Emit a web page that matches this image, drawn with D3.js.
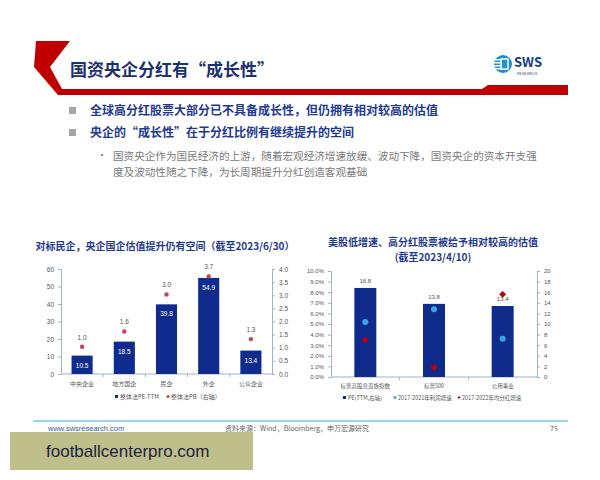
<!DOCTYPE html>
<html><head><meta charset="utf-8">
<script src="https://cdn.jsdelivr.net/npm/d3@7"></script>
<style>
html,body{margin:0;padding:0;background:#fff;}
svg{display:block;font-family:"Noto Sans CJK SC","Noto Sans",sans-serif;}
</style></head>
<body><svg id="c" width="600" height="480"></svg>
<script>
// ---- data ----
const leftCats = ["中央企业","地方国企","民企","外企","公众企业"];
const leftPE = [10.5,18.5,39.8,54.9,13.4];
const leftPB = [1.04,1.62,3.03,3.72,1.33];
const leftTicksL = [0,10,20,30,40,50,60];
const leftTicksR = [0,0.5,1,1.5,2,2.5,3,3.5,4];

const rightCats = ["标普高股息贵族指数","标普500","公用事业"];
const rightPE = [16.8,13.8,13.4];
const rightGrowth = [0.052,0.064,0.036];
const rightDiv = [0.035,0.009,0.078];
const rightTicksL = [0,0.01,0.02,0.03,0.04,0.05,0.06,0.07,0.08,0.09,0.10];
const rightTicksR = [0,2,4,6,8,10,12,14,16,18,20];

const svg = d3.select("#c");
const NAVY = "#0f2c8c", AX = "#9fb3cc", TXT = "#555";

// ---- header ----
svg.append("path").attr("fill", "#c00000")
  .attr("d","M36,41 L70,41 L50,67 L62,89 L482,89 L488,85 L568,85 L568,95 L58,95 L34,67 Z");
svg.append("text").attr("x",70).attr("y",76).attr("font-size",17).attr("font-weight","bold")
  .attr("fill","#1c2f6e").text("国资央企分红有“成长性”");
// logo
const lg = svg.append("g");
lg.append("circle").attr("cx",503).attr("cy",64).attr("r",9).attr("fill","#1f8fd6");
[59,62,65,68].forEach(y=>lg.append("rect").attr("x",494).attr("y",y).attr("width",8).attr("height",1.5).attr("fill","#fff"));
lg.append("rect").attr("x",501).attr("y",59).attr("width",7).attr("height",10).attr("fill","none").attr("stroke","#fff").attr("stroke-width",1.5);
lg.append("text").attr("x",514).attr("y",67).attr("font-size",13).attr("font-weight","bold").attr("fill","#1a3a8a").text("SWS");
lg.append("text").attr("x",517).attr("y",75).attr("font-size",4).attr("fill","#1a3a8a").text("RESEARCH");

// ---- bullets ----
[[115,"全球高分红股票大部分已不具备成长性，但仍拥有相对较高的估值"],[137,"央企的“成长性”在于分红比例有继续提升的空间"]].forEach(([y,t])=>{
  svg.append("rect").attr("x",69).attr("y",y-8).attr("width",7).attr("height",7).attr("fill","#a6a6a6");
  svg.append("text").attr("x",90).attr("y",y).attr("font-size",12).attr("font-weight","bold").attr("fill","#1f3a93").text(t);
});
svg.append("text").attr("x",97).attr("y",159).attr("font-size",10).attr("fill","#777").text("•");
svg.append("text").attr("x",113).attr("y",160).attr("font-size",10.6).attr("fill","#7a7a7a").text("国资央企作为国民经济的上游，随着宏观经济增速放缓、波动下降，国资央企的资本开支强");
svg.append("text").attr("x",113).attr("y",176).attr("font-size",10.6).attr("fill","#7a7a7a").text("度及波动性随之下降，为长周期提升分红创造客观基础");

// ---- left chart ----
{
  const x0=61,x1=272,yT=269,yB=374;
  const x = d3.scaleBand().domain(leftCats).range([x0,x1]).paddingInner(0.5).paddingOuter(0.25);
  const xb = d3.scaleBand().domain(leftCats).range([x0,x1]);
  const yL = d3.scaleLinear().domain([0,60]).range([yB,yT]);
  const yR = d3.scaleLinear().domain([0,4]).range([yB,yT]);
  const g = svg.append("g");
  g.append("text").attr("x",165).attr("y",250).attr("text-anchor","middle").attr("font-size",10).attr("font-weight","bold").attr("fill","#1f3a93")
    .text("对标民企，央企国企估值提升仍有空间（截至2023/6/30）");
  const aL = g.append("g").attr("transform",`translate(${x0},0)`).call(d3.axisLeft(yL).tickValues(leftTicksL).tickSize(3).tickPadding(4).tickFormat(d3.format("d")));
  const aR = g.append("g").attr("transform",`translate(${x1},0)`).call(d3.axisRight(yR).tickValues(leftTicksR).tickSize(3).tickPadding(4).tickFormat(d3.format(".1f")));
  const aB = g.append("g").attr("transform",`translate(0,${yB})`).call(d3.axisBottom(xb).tickSize(0).tickFormat(""));
  [aL,aR,aB].forEach(a=>{a.selectAll("path,line").attr("stroke",AX);a.selectAll("text").attr("fill",TXT).attr("font-size",6.5).attr("font-family","Arial,Liberation Sans,sans-serif");});
  aB.select("path").attr("d",`M${x0},0H${x1}`);
  g.selectAll(".btick").data(leftCats.slice(1)).join("line").attr("x1",d=>xb(d)).attr("x2",d=>xb(d)).attr("y1",yB).attr("y2",yB+3).attr("stroke",AX);
  g.selectAll(".bar").data(leftCats).join("rect").attr("x",d=>x(d)).attr("width",x.bandwidth())
    .attr("y",(d,i)=>yL(leftPE[i])).attr("height",(d,i)=>yB-yL(leftPE[i])).attr("fill",NAVY);
  g.selectAll(".bl").data(leftCats).join("text").attr("x",d=>x(d)+x.bandwidth()/2).attr("y",(d,i)=>yL(leftPE[i])+12)
    .attr("text-anchor","middle").attr("font-size",6.5).attr("fill","#fff").attr("font-family","Arial,Liberation Sans,sans-serif").text((d,i)=>leftPE[i].toFixed(1));
  g.selectAll(".pb").data(leftCats).join("circle").attr("cx",d=>x(d)+x.bandwidth()/2).attr("cy",(d,i)=>yR(leftPB[i])).attr("r",2.2).attr("fill","#c8424f");
  g.selectAll(".pbl").data(leftCats).join("text").attr("x",d=>x(d)+x.bandwidth()/2).attr("y",(d,i)=>yR(leftPB[i])-7)
    .attr("text-anchor","middle").attr("font-size",6.5).attr("fill",TXT).attr("font-family","Arial,Liberation Sans,sans-serif").text((d,i)=>leftPB[i].toFixed(1));
  g.selectAll(".cl").data(leftCats).join("text").attr("x",d=>xb(d)+xb.bandwidth()/2).attr("y",386).attr("text-anchor","middle")
    .attr("font-size",6).attr("fill",TXT).text(d=>d);
  g.append("rect").attr("x",115).attr("y",395).attr("width",3).attr("height",3).attr("fill",NAVY);
  g.append("text").attr("x",120).attr("y",399).attr("font-size",6).attr("fill",TXT).text("整体法PE-TTM");
  g.append("circle").attr("cx",168).attr("cy",396.5).attr("r",1.5).attr("fill","#c8424f");
  g.append("text").attr("x",171).attr("y",399).attr("font-size",6).attr("fill",TXT).text("整体法PB（右轴）");
}

// ---- right chart ----
{
  const x0=331,x1=537,yT=271,yB=377;
  const xb = d3.scaleBand().domain(rightCats).range([x0,x1]);
  const x = d3.scaleBand().domain(rightCats).range([x0,x1]).paddingInner(0.68).paddingOuter(0.34);
  const yL = d3.scaleLinear().domain([0,0.10]).range([yB,yT]);
  const yR = d3.scaleLinear().domain([0,20]).range([yB,yT]);
  const g = svg.append("g");
  g.append("text").attr("x",433).attr("y",246).attr("text-anchor","middle").attr("font-size",10).attr("font-weight","bold").attr("fill","#1f3a93")
    .text("美股低增速、高分红股票被给予相对较高的估值");
  g.append("text").attr("x",433).attr("y",261).attr("text-anchor","middle").attr("font-size",10).attr("font-weight","bold").attr("fill","#1f3a93")
    .text("(截至2023/4/10)");
  const aL = g.append("g").attr("transform",`translate(${x0},0)`).call(d3.axisLeft(yL).tickValues(rightTicksL).tickSize(3).tickPadding(4).tickFormat(d3.format(".1%")));
  const aR = g.append("g").attr("transform",`translate(${x1},0)`).call(d3.axisRight(yR).tickValues(rightTicksR).tickSize(3).tickPadding(4).tickFormat(d3.format("d")));
  const aB = g.append("g").attr("transform",`translate(0,${yB})`).call(d3.axisBottom(xb).tickSize(0).tickFormat(""));
  [aL,aR,aB].forEach(a=>{a.selectAll("path,line").attr("stroke",AX);a.selectAll("text").attr("fill",TXT).attr("font-size",6).attr("font-family","Arial,Liberation Sans,sans-serif");});
  aB.select("path").attr("d",`M${x0},0H${x1}`);
  g.selectAll(".btick").data(rightCats.slice(1)).join("line").attr("x1",d=>xb(d)).attr("x2",d=>xb(d)).attr("y1",yB).attr("y2",yB+3).attr("stroke",AX);
  g.selectAll(".bar").data(rightCats).join("rect").attr("x",d=>x(d)).attr("width",x.bandwidth())
    .attr("y",(d,i)=>yR(rightPE[i])).attr("height",(d,i)=>yB-yR(rightPE[i])).attr("fill",NAVY);
  g.selectAll(".bl").data(rightCats).join("text").attr("x",d=>x(d)+x.bandwidth()/2).attr("y",(d,i)=>yR(rightPE[i])-5)
    .attr("text-anchor","middle").attr("font-size",6).attr("fill",TXT).attr("font-family","Arial,Liberation Sans,sans-serif").text((d,i)=>rightPE[i].toFixed(1));
  g.selectAll(".gr").data(rightCats).join("circle").attr("cx",d=>x(d)+x.bandwidth()/2).attr("cy",(d,i)=>yL(rightGrowth[i])).attr("r",3).attr("fill","#3fa3e0");
  g.selectAll(".dv").data(rightCats).join("path").attr("transform",(d,i)=>`translate(${x(d)+x.bandwidth()/2},${yL(rightDiv[i])})`)
    .attr("d",d3.symbol(d3.symbolDiamond2,30)).attr("fill","#c00000");
  g.selectAll(".cl").data(rightCats).join("text").attr("x",d=>xb(d)+xb.bandwidth()/2).attr("y",388).attr("text-anchor","middle")
    .attr("font-size",5.5).attr("fill",TXT).text(d=>d);
  g.append("rect").attr("x",343).attr("y",396).attr("width",3).attr("height",3).attr("fill",NAVY);
  g.append("text").attr("x",348).attr("y",400).attr("font-size",5.5).attr("fill",TXT).text("PE(TTM,右轴)");
  g.append("circle").attr("cx",395).attr("cy",397.5).attr("r",1.5).attr("fill","#3fa3e0");
  g.append("text").attr("x",398).attr("y",400).attr("font-size",5.5).attr("fill",TXT).text("2017-2021年利润增速");
  g.append("path").attr("transform","translate(459,397.5)").attr("d",d3.symbol(d3.symbolDiamond2,6)).attr("fill","#c00000");
  g.append("text").attr("x",462).attr("y",400).attr("font-size",5.5).attr("fill",TXT).text("2017-2022年均分红增速");
}

// ---- footer ----
svg.append("line").attr("x1",33).attr("x2",568).attr("y1",421).attr("y2",421).attr("stroke","#3fa3d6").attr("stroke-width",1.2);
svg.append("text").attr("x",48).attr("y",431).attr("font-size",7.5).attr("fill","#3a5a9a").attr("font-family","Arial,Liberation Sans,sans-serif").text("www.swsresearch.com");
svg.append("text").attr("x",225).attr("y",431).attr("font-size",7).attr("fill","#666").text("资料来源：Wind，Bloomberg，申万宏源研究");
svg.append("text").attr("x",550).attr("y",431).attr("font-size",7).attr("fill","#666").text("75");
svg.append("rect").attr("x",10).attr("y",432).attr("width",243).attr("height",38).attr("fill","#bfbf8c");
svg.append("text").attr("x",46).attr("y",457).attr("font-size",17).attr("fill","#1e2140").attr("font-family","Liberation Sans,Arial,sans-serif").text("footballcenterpro.com");
</script></body></html>
